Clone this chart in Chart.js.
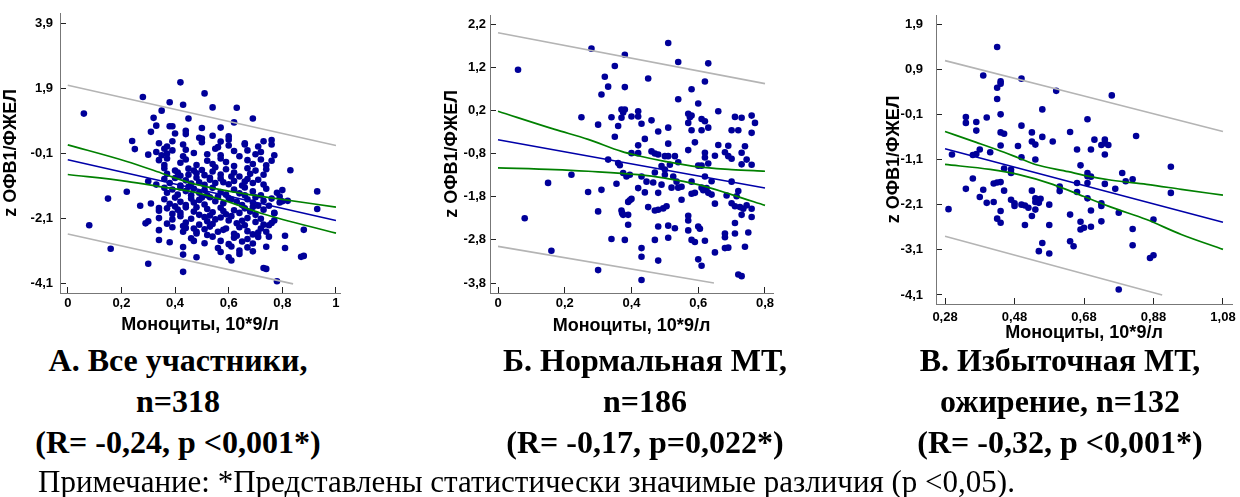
<!DOCTYPE html>
<html>
<head>
<meta charset="utf-8">
<script src="https://cdn.jsdelivr.net/npm/chart.js@4.4.0/dist/chart.umd.min.js"></script>
<style>
  body { margin: 0; width: 1240px; height: 497px; background: #fff; position: relative; overflow: hidden; }
  canvas { position: absolute; top: 0; }
  .cap { position: absolute; top: 340px; width: 440px; text-align: center; color: #000;
         font: bold 32px "Liberation Serif", "Times New Roman", serif; line-height: 41px; white-space: nowrap; }
  .note { position: absolute; left: 38px; top: 462px; color: #000;
          font: 31px "Liberation Serif", "Times New Roman", serif; line-height: 40px; white-space: nowrap; }
</style>
</head>
<body>
<canvas id="chart-a" width="345" height="340" style="left:0px"></canvas>
<canvas id="chart-b" width="350" height="340" style="left:430px"></canvas>
<canvas id="chart-c" width="370" height="345" style="left:870px"></canvas>

<div class="cap" style="left:-42px">А. Все участники,<br>n=318<br>(R= -0,24, p &lt;0,001*)</div>
<div class="cap" style="left:425px">Б. Нормальная МТ,<br>n=186<br>(R= -0,17, p=0,022*)</div>
<div class="cap" style="left:840px">В. Избыточная МТ,<br>ожирение, n=132<br>(R= -0,32, p &lt;0,001*)</div>
<div class="note">Примечание: *Представлены статистически значимые различия (р &lt;0,05).</div>

<script>
// ---------- all participants (A) ----------
const pointsA = [
  [0.42,2.09],[0.51,1.75],[0.28,1.64],[0.38,1.48],[0.43,1.40],[0.54,1.32],[0.63,1.31],[0.35,1.22],
  [0.06,1.13],[0.32,1.0],[0.45,0.98],[0.69,0.98],[0.62,0.86],[0.33,0.76],[0.38,0.74],[0.39,0.74],
  [0.50,0.69],[0.57,0.70],[0.31,0.57],[0.44,0.60],[0.44,0.50],[0.40,0.52],[0.49,0.39],[0.50,0.36],
  [0.54,0.45],[0.60,0.43],[0.60,0.33],[0.24,0.29],[0.76,0.32],[0.66,0.18],[0.25,0.04],[0.30,-0.13],
  [0.83,-0.61],[0.93,-1.26],[0.93,-1.80],[0.88,-2.44],[0.87,-3.27],[0.88,-3.24],[0.22,-1.27],
  [0.15,-1.48],[0.08,-2.30],[0.16,-3.02],[0.30,-3.48],[0.43,-3.73],[0.78,-4.02],[0.73,-3.61],
  [0.74,-3.64],[0.43,-3.20],[0.48,-3.28],[0.29,-2.24],[0.30,-2.18],[0.27,-1.70],[0.31,-1.63],
  [0.34,-1.77],[0.48,-2.50],[0.47,-2.78],[0.76,-0.32],[0.79,-1.42],[0.80,-1.56],[0.82,-1.55],
  [0.77,-1.93],[0.76,-2.23],[0.75,-2.65],
  [0.34,0.22],[0.37,0.12],[0.39,0.28],[0.43,0.18],[0.50,0.25],[0.56,0.10],[0.57,0.27],[0.60,0.15],
  [0.66,0.22],[0.71,0.12],[0.73,0.28],[0.76,0.18],
  [0.33,-0.05],[0.35,-0.15],[0.36,0.05],[0.37,-0.10],[0.39,0.0],[0.43,-0.18],[0.44,0.02],[0.47,-0.08],
  [0.52,-0.12],[0.55,0.05],[0.57,-0.15],[0.62,-0.02],[0.64,-0.18],[0.67,0.0],[0.70,-0.12],[0.72,-0.05],
  [0.77,-0.15],
  [0.34,-0.30],[0.36,-0.45],[0.37,-0.25],[0.42,-0.38],[0.44,-0.28],[0.48,-0.45],[0.52,-0.32],[0.54,-0.42],
  [0.57,-0.25],[0.59,-0.36],[0.62,-0.48],[0.67,-0.30],[0.69,-0.42],[0.72,-0.28],[0.74,-0.46],
  [0.36,-0.55],[0.37,-0.72],[0.40,-0.62],[0.42,-0.78],[0.45,-0.56],[0.48,-0.70],[0.50,-0.60],[0.51,-0.76],
  [0.54,-0.65],[0.55,-0.52],[0.57,-0.74],[0.59,-0.58],[0.62,-0.68],[0.64,-0.80],[0.67,-0.55],[0.68,-0.72],
  [0.70,-0.62],[0.73,-0.75],[0.74,-0.58],
  [0.30,-0.95],[0.33,-1.05],[0.36,-0.88],[0.38,-1.0],[0.40,-0.85],[0.42,-1.08],[0.44,-0.92],[0.46,-1.02],
  [0.48,-0.84],[0.49,-0.98],[0.51,-1.06],[0.53,-0.90],[0.55,-1.0],[0.57,-0.86],[0.60,-1.04],[0.62,-0.94],
  [0.65,-1.08],[0.67,-0.88],[0.69,-1.0],[0.71,-0.9],[0.73,-1.05],
  [0.36,-1.15],[0.37,-1.3],[0.39,-1.2],[0.41,-1.36],[0.42,-1.14],[0.44,-1.25],[0.46,-1.38],[0.47,-1.18],
  [0.49,-1.3],[0.51,-1.22],[0.52,-1.38],[0.54,-1.15],[0.57,-1.28],[0.59,-1.36],[0.62,-1.2],[0.64,-1.32],
  [0.66,-1.14],[0.69,-1.26],[0.72,-1.38],[0.74,-1.18],[0.78,-1.3],[0.80,-1.22],
  [0.36,-1.5],[0.38,-1.64],[0.40,-1.45],[0.42,-1.58],[0.44,-1.68],[0.46,-1.48],[0.47,-1.6],[0.49,-1.52],
  [0.51,-1.66],[0.53,-1.44],[0.55,-1.56],[0.58,-1.62],[0.60,-1.46],[0.63,-1.58],[0.65,-1.68],[0.67,-1.5],
  [0.69,-1.6],[0.70,-1.44],[0.73,-1.55],[0.76,-1.48],[0.79,-1.6],
  [0.34,-1.85],[0.37,-1.78],[0.39,-1.95],[0.41,-1.82],[0.42,-1.92],[0.44,-1.75],[0.47,-1.88],[0.49,-1.98],
  [0.52,-1.8],[0.54,-1.9],[0.57,-1.76],[0.59,-1.96],[0.62,-1.84],[0.64,-1.92],[0.66,-1.78],[0.68,-1.88],
  [0.70,-1.98],[0.73,-1.82],[0.77,-1.92],
  [0.34,-2.08],[0.37,-2.25],[0.39,-2.12],[0.42,-2.02],[0.44,-2.22],[0.46,-2.1],[0.49,-2.28],[0.51,-2.05],
  [0.52,-2.18],[0.54,-2.26],[0.57,-2.06],[0.60,-2.15],[0.63,-2.24],[0.67,-2.08],[0.70,-2.2],[0.72,-2.1],
  [0.73,-2.28],[0.77,-2.15],
  [0.34,-2.45],[0.39,-2.36],[0.43,-2.5],[0.44,-2.38],[0.48,-2.55],[0.51,-2.42],[0.53,-2.34],[0.56,-2.5],
  [0.59,-2.4],[0.62,-2.56],[0.64,-2.36],[0.67,-2.48],[0.69,-2.58],[0.72,-2.4],[0.74,-2.5],
  [0.34,-2.75],[0.38,-2.82],[0.46,-2.7],[0.51,-2.85],[0.54,-2.65],[0.57,-2.78],[0.60,-2.88],[0.62,-2.68],
  [0.65,-2.8],[0.67,-2.72],[0.69,-2.86],[0.71,-2.66],[0.81,-2.62],
  [0.43,-2.97],[0.56,-3.0],[0.57,-3.12],[0.61,-2.95],[0.64,-3.08],[0.64,-3.18],[0.67,-2.98],[0.69,-3.1],
  [0.74,-2.96],[0.81,-3.0],[0.60,-3.28],[0.61,-3.38],
  [0.41,-0.68],[0.47,-0.62],[0.53,-0.84],[0.58,-0.98],[0.61,-0.8],[0.66,-0.96],[0.45,-1.12],[0.50,-1.45],
  [0.56,-1.42],[0.61,-1.5],[0.66,-1.38],[0.71,-1.7],[0.48,-1.75],[0.53,-2.0],[0.58,-1.86],[0.61,-2.02],
  [0.65,-2.16],[0.69,-1.74],[0.75,-1.7],[0.40,-1.72],[0.43,-2.32],[0.47,-2.4],[0.55,-2.12],[0.58,-2.44],
  [0.63,-2.62],[0.66,-2.3],[0.71,-2.52],[0.75,-2.3],[0.52,-2.6],[0.45,-0.75]
];
const fitA = [[0, -0.285], [1, -2.15]];
const ciUpperA = [[0, 0.17], [0.22, -0.34], [0.35, -0.70], [0.47, -1.03], [0.6, -1.25], [0.72, -1.41], [1, -1.74]];
const ciLowerA = [[0, -0.74], [0.22, -0.95], [0.35, -1.12], [0.47, -1.28], [0.6, -1.58], [0.72, -1.93], [1, -2.54]];
const piUpperA = [[0, 2.0], [1, 0.15]];
const piLowerA = [[0, -2.57], [0.84, -4.1]];
const xTicksA = [0, 0.2, 0.4, 0.6, 0.8, 1];
const yTicksA = [3.9, 1.9, -0.1, -2.1, -4.1];

// ---------- normal body mass (B) ----------
const pointsB = [
  [0.51,1.76],[0.28,1.63],[0.38,1.49],[0.06,1.14],[0.54,1.32],[0.63,1.29],[0.35,1.23],[0.32,0.98],
  [0.45,0.94],[0.62,0.87],[0.33,0.75],[0.38,0.74],[0.58,0.69],[0.31,0.57],[0.54,0.46],[0.60,0.36],
  [0.37,0.22],[0.38,0.22],[0.375,0.15],[0.42,0.18],[0.66,0.18],[0.57,0.12],[0.58,0.08],[0.575,0.04],
  [0.25,0.04],[0.34,0.04],[0.37,0.03],[0.40,0.06],[0.42,0.06],[0.46,-0.03],[0.61,0.0],[0.62,-0.05],
  [0.71,0.05],[0.73,0.03],[0.76,0.08],[0.77,-0.09],[0.30,-0.13],[0.36,-0.16],[0.43,-0.11],[0.51,-0.20],
  [0.57,-0.09],[0.63,-0.20],[0.58,-0.26],[0.61,-0.26],[0.70,-0.26],[0.72,-0.26],[0.76,-0.32],[0.35,-0.41],
  [0.44,-0.46],[0.59,-0.54],[0.51,-0.57],[0.42,-0.61],[0.66,-0.60],[0.69,-0.62],[0.74,-0.63],[0.33,-0.94],
  [0.40,-0.79],[0.42,-0.79],[0.46,-0.75],[0.47,-0.80],[0.48,-0.82],[0.50,-0.86],[0.51,-0.86],[0.53,-0.86],
  [0.54,-1.00],[0.57,-0.72],[0.60,-1.08],[0.61,-1.08],[0.62,-0.78],[0.63,-1.03],[0.65,-0.85],[0.68,-0.77],
  [0.69,-0.86],[0.70,-0.92],[0.73,-1.05],[0.36,-1.02],[0.365,-1.07],[0.375,-1.25],[0.385,-1.33],[0.395,-1.29],
  [0.43,-1.33],[0.445,-1.45],[0.47,-1.24],[0.49,-1.52],[0.50,-1.29],[0.525,-1.33],[0.535,-1.45],[0.49,-1.09],
  [0.50,-1.17],[0.515,-1.06],[0.58,-1.45],[0.62,-1.33],[0.625,-1.6],[0.64,-1.44],[0.55,-1.57],[0.59,-1.71],
  [0.615,-1.65],[0.63,-1.71],[0.64,-1.75],[0.70,-1.45],[0.72,-1.67],[0.685,-1.77],[0.355,-1.50],[0.22,-1.29],
  [0.15,-1.48],[0.27,-1.69],[0.31,-1.64],[0.42,-1.60],[0.44,-1.70],[0.465,-1.47],[0.48,-1.71],[0.55,-1.87],
  [0.58,-1.73],[0.39,-1.92],[0.395,-1.88],[0.40,-1.85],[0.70,-1.95],[0.71,-2.02],[0.725,-2.04],[0.735,-2.08],
  [0.73,-2.22],[0.76,-2.27],[0.30,-2.14],[0.37,-2.12],[0.372,-2.18],[0.375,-2.22],[0.39,-2.22],[0.45,-2.04],
  [0.47,-2.12],[0.48,-2.10],[0.495,-2.07],[0.505,-2.02],[0.57,-2.24],[0.57,-2.35],[0.08,-2.30],[0.39,-2.45],
  [0.48,-2.49],[0.51,-2.47],[0.53,-2.53],[0.57,-2.58],[0.60,-2.49],[0.605,-2.54],[0.71,-2.41],[0.68,-2.65],
  [0.68,-2.74],[0.71,-2.65],[0.75,-2.63],[0.34,-2.78],[0.38,-2.80],[0.47,-2.80],[0.51,-2.75],[0.58,-2.80],
  [0.59,-2.85],[0.62,-2.82],[0.68,-2.99],[0.69,-2.98],[0.74,-2.96],[0.43,-2.99],[0.43,-3.19],[0.16,-3.05],
  [0.65,-3.09],[0.48,-3.28],[0.60,-3.25],[0.61,-3.40],[0.30,-3.50],[0.43,-3.73],[0.72,-3.60],[0.73,-3.64],
  [0.73,-0.78],[0.745,-0.94],[0.76,-1.06],[0.715,-1.79],[0.745,-2.0],[0.76,-2.08],[0.52,-1.59],[0.54,-1.59],
  [0.62,-0.89],[0.48,-0.29],[0.61,-1.59],[0.65,-1.96]
];
const fitB = [[0, -0.48], [0.8, -1.6]];
const ciUpperB = [[0, 0.18], [0.17, -0.24], [0.27, -0.47], [0.37, -0.75], [0.42, -0.85], [0.5, -0.98], [0.6, -1.11], [0.7, -1.17], [0.8, -1.21]];
const ciLowerB = [[0, -1.13], [0.17, -1.17], [0.27, -1.21], [0.42, -1.29], [0.5, -1.37], [0.6, -1.52], [0.7, -1.75], [0.8, -2.0]];
const piUpperB = [[0, 2.0], [0.8, 0.82]];
const piLowerB = [[0, -2.95], [0.647, -3.8]];
const xTicksB = [0, 0.2, 0.4, 0.6, 0.8];
const yTicksB = [2.2, 1.2, 0.2, -0.8, -1.8, -2.8, -3.8];

// ---------- overweight / obesity (C) ----------
const pointsC = [
  [0.43,1.39],[0.39,0.76],[0.50,0.69],[0.44,0.63],[0.44,0.58],[0.43,0.49],[0.60,0.42],[0.76,0.32],
  [0.43,0.24],[0.56,0.01],[0.44,-0.10],[0.34,-0.16],[0.34,-0.29],[0.37,-0.27],[0.40,-0.17],[0.69,-0.21],
  [0.50,-0.35],[0.37,-0.46],[0.64,-0.49],[0.53,-0.50],[0.44,-0.50],[0.45,-0.53],[0.83,-0.58],[0.56,-0.60],
  [0.59,-0.70],[0.53,-0.70],[0.54,-0.77],[0.71,-0.66],[0.74,-0.66],[0.74,-0.74],[0.75,-0.78],[0.73,-0.78],
  [0.44,-0.79],[0.49,-0.80],[0.66,-0.88],[0.70,-0.88],[0.38,-0.88],[0.41,-0.94],[0.30,-0.99],[0.36,-1.00],
  [0.37,-0.98],[0.74,-0.99],[0.50,-1.05],[0.54,-1.10],[0.67,-1.23],[0.45,-1.30],[0.47,-1.32],[0.47,-1.40],
  [0.69,-1.40],[0.69,-1.47],[0.70,-1.48],[0.79,-1.40],[0.80,-1.58],[0.82,-1.54],[0.93,-1.26],[0.36,-1.52],
  [0.42,-1.63],[0.43,-1.61],[0.44,-1.60],[0.66,-1.62],[0.69,-1.62],[0.74,-1.64],[0.61,-1.70],[0.61,-1.80],
  [0.34,-1.75],[0.39,-1.77],[0.45,-1.79],[0.53,-1.79],[0.66,-1.82],[0.77,-1.75],[0.93,-1.84],[0.38,-1.93],
  [0.40,-2.06],[0.42,-2.04],[0.47,-1.99],[0.48,-2.07],[0.48,-2.13],[0.50,-2.10],[0.51,-2.12],[0.52,-2.17],
  [0.54,-1.96],[0.55,-1.99],[0.555,-1.97],[0.54,-2.04],[0.55,-2.06],[0.58,-2.10],[0.69,-1.96],[0.73,-2.07],
  [0.73,-2.13],[0.29,-2.20],[0.44,-2.24],[0.54,-2.21],[0.70,-2.23],[0.78,-2.28],[0.64,-2.32],[0.53,-2.35],
  [0.43,-2.41],[0.44,-2.50],[0.67,-2.48],[0.51,-2.55],[0.58,-2.55],[0.67,-2.65],[0.68,-2.61],[0.70,-2.59],
  [0.73,-2.47],[0.82,-2.64],[0.88,-2.43],[0.56,-2.95],[0.64,-2.91],[0.65,-3.02],[0.55,-3.13],[0.58,-3.18],
  [0.82,-3.00],[0.87,-3.28],[0.88,-3.22],[0.78,-3.98]
];
const fitC = [[0.28, -0.86], [1.08, -2.49]];
const ciUpperC = [[0.28, -0.48], [0.37, -0.72], [0.45, -0.94], [0.49, -1.06], [0.54, -1.21], [0.635, -1.37], [0.68, -1.45], [0.76, -1.56], [0.86, -1.65], [0.96, -1.76], [1.08, -1.89]];
const ciLowerC = [[0.28, -1.21], [0.41, -1.32], [0.49, -1.43], [0.59, -1.65], [0.68, -1.92], [0.76, -2.16], [0.86, -2.43], [0.96, -2.76], [1.08, -3.09]];
const piUpperC = [[0.28, 1.09], [1.08, -0.48]];
const piLowerC = [[0.28, -2.80], [0.905, -4.1]];
const xTicksC = [0.28, 0.48, 0.68, 0.88, 1.08];
const yTicksC = [1.9, 0.9, -0.1, -1.1, -2.1, -3.1, -4.1];

const DOT = '#000099';
const FIT = '#0000a8';
const CI = '#008000';
const PI = '#b4b4b4';

const toXY = arr => arr.map(([x, y]) => ({ x, y }));
const fmt = v => String(v).replace('.', ',');

function line(data, color, width) {
  return {
    data: toXY(data), showLine: true, borderColor: color, borderWidth: width,
    pointRadius: 0, pointHoverRadius: 0, fill: false, cubicInterpolationMode: 'monotone'
  };
}

function makeChart(id, c) {
  const tickFont = { family: 'Liberation Sans', size: 13, weight: 'bold' };
  const titleFont = { family: 'Liberation Sans', size: 18, weight: 'bold' };
  new Chart(document.getElementById(id), {
    type: 'scatter',
    data: {
      datasets: [
        line(c.fit, FIT, 1.5),
        line(c.ciUpper, CI, 1.7),
        line(c.ciLower, CI, 1.7),
        line(c.piUpper, PI, 1.6),
        line(c.piLower, PI, 1.6),
        {
          data: toXY(c.points), pointRadius: 3.3, pointHoverRadius: 3.3,
          pointBackgroundColor: DOT, pointBorderColor: DOT, pointBorderWidth: 0
        }
      ]
    },
    options: {
      responsive: false,
      animation: false,
      events: [],
      layout: { padding: { left: 0, top: c.padTop, right: c.padRight, bottom: 0 } },
      plugins: { legend: { display: false }, tooltip: { enabled: false } },
      scales: {
        x: {
          type: 'linear', min: c.xMin, max: c.xMax,
          afterBuildTicks: s => { s.ticks = c.xTicks.map(v => ({ value: v })); },
          afterFit: s => { s.height = c.xAxisH; s.paddingLeft = 0; s.paddingRight = 0; },
          grid: { drawOnChartArea: false, drawTicks: true, tickLength: -6, color: '#222' },
          border: { display: true, color: '#777', width: 1 },
          ticks: { font: tickFont, color: '#000', padding: c.xLabelPad, maxRotation: 0, autoSkip: false, callback: fmt },
          title: { display: true, text: 'Моноциты, 10*9/л', font: titleFont, color: '#000', padding: { top: 0, bottom: c.xTitlePad } }
        },
        y: {
          type: 'linear', min: c.yMin, max: c.yMax,
          afterBuildTicks: s => { s.ticks = c.yTicks.map(v => ({ value: v })); },
          afterFit: s => { s.width = c.yAxisW; s.paddingTop = 0; s.paddingBottom = 0; },
          grid: { drawOnChartArea: false, drawTicks: true, tickLength: -6, color: '#222' },
          border: { display: true, color: '#777', width: 1 },
          ticks: { font: tickFont, color: '#000', padding: c.yLabelPad, autoSkip: false, callback: fmt },
          title: { display: true, text: 'z ОФВ1/ФЖЕЛ', font: titleFont, color: '#000', padding: { top: c.yTitlePad, bottom: 0 } }
        }
      }
    }
  });
}

makeChart('chart-a', {
  points: pointsA, fit: fitA, ciUpper: ciUpperA, ciLower: ciLowerA, piUpper: piUpperA, piLower: piLowerA,
  xTicks: xTicksA, yTicks: yTicksA, xMin: -0.029, xMax: 1.015, yMin: -4.38, yMax: 4.22,
  padTop: 13, padRight: 5, yAxisW: 60, xAxisH: 47, xLabelPad: 9, yLabelPad: 13, xTitlePad: 4, yTitlePad: 0
});
makeChart('chart-b', {
  points: pointsB, fit: fitB, ciUpper: ciUpperB, ciLower: ciLowerB, piUpper: piUpperB, piLower: piLowerB,
  xTicks: xTicksB, yTicks: yTicksB, xMin: -0.024, xMax: 0.824, yMin: -4.03, yMax: 2.41,
  padTop: 15, padRight: 7, yAxisW: 60, xAxisH: 47, xLabelPad: 9, yLabelPad: 10, xTitlePad: 3, yTitlePad: 11
});
makeChart('chart-c', {
  points: pointsC, fit: fitC, ciUpper: ciUpperC, ciLower: ciLowerC, piUpper: piUpperC, piLower: piLowerC,
  xTicks: xTicksC, yTicks: yTicksC, xMin: 0.254, xMax: 1.106, yMin: -4.3, yMax: 2.1,
  padTop: 15, padRight: 8, yAxisW: 66, xAxisH: 41, xLabelPad: 12, yLabelPad: 19, xTitlePad: 1, yTitlePad: 13
});
</script>
</body>
</html>
